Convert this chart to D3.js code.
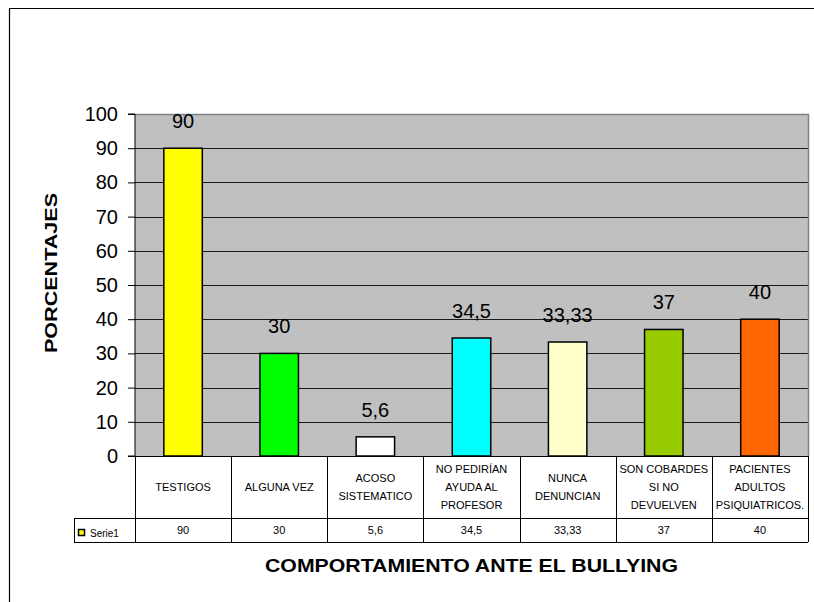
<!DOCTYPE html>
<html>
<head>
<meta charset="utf-8">
<script src="https://cdn.jsdelivr.net/npm/d3@7"></script>
<style>
  body { margin: 0; background: #fff; }
  svg { display: block; font-family: Arial, "Liberation Sans", sans-serif; }
</style>
</head>
<body>
<div id="chart"></div>
<script>
const categories = [
  "TESTIGOS",
  "ALGUNA VEZ",
  "ACOSO SISTEMATICO",
  "NO PEDIRÍAN AYUDA AL PROFESOR",
  "NUNCA DENUNCIAN",
  "SON COBARDES SI NO DEVUELVEN",
  "PACIENTES ADULTOS PSIQUIATRICOS."
];
const categoryLines = [
  ["TESTIGOS"],
  ["ALGUNA VEZ"],
  ["ACOSO", "SISTEMATICO"],
  ["NO PEDIRÍAN", "AYUDA AL", "PROFESOR"],
  ["NUNCA", "DENUNCIAN"],
  ["SON COBARDES", "SI NO", "DEVUELVEN"],
  ["PACIENTES", "ADULTOS", "PSIQUIATRICOS."]
];
const values = [90, 30, 5.6, 34.5, 33.33, 37, 40];
const valueLabels = ["90", "30", "5,6", "34,5", "33,33", "37", "40"];
const barColors = ["#ffff00", "#00ff00", "#ffffff", "#00ffff", "#ffffcc", "#99cc00", "#ff6600"];
const yTicks = [0, 10, 20, 30, 40, 50, 60, 70, 80, 90, 100];
const seriesName = "Serie1";
const xTitle = "COMPORTAMIENTO ANTE EL BULLYING";
const yTitle = "PORCENTAJES";

const W = 814, H = 602;
const PLOT = { left: 135, right: 808, top: 114, bottom: 456 };
const ROW1 = 518, ROW2 = 542, LEGEND_LEFT = 74;

const svg = d3.select("#chart").append("svg")
  .attr("width", W)
  .attr("height", H);

// outer chart frame (cropped at right/bottom)
svg.append("path")
  .attr("d", `M9.5,${H} L9.5,8.5 L${W},8.5`)
  .attr("fill", "none")
  .attr("stroke", "#000")
  .attr("stroke-width", 1.2);

const x = d3.scaleBand()
  .domain(categories)
  .range([PLOT.left, PLOT.right])
  .padding(0);

const y = d3.scaleLinear()
  .domain([0, 100])
  .range([PLOT.bottom, PLOT.top]);

// plot background
svg.append("rect")
  .attr("x", PLOT.left)
  .attr("y", PLOT.top)
  .attr("width", PLOT.right - PLOT.left)
  .attr("height", PLOT.bottom - PLOT.top)
  .attr("fill", "#c0c0c0");

// gridlines
svg.append("g")
  .selectAll("line")
  .data(yTicks.filter((d) => d > 0 && d < 100))
  .join("line")
  .attr("x1", PLOT.left)
  .attr("x2", PLOT.right)
  .attr("y1", (d) => Math.round(y(d)) + 0.5)
  .attr("y2", (d) => Math.round(y(d)) + 0.5)
  .attr("stroke", "#1a1a1a")
  .attr("stroke-width", 1);

// plot border top / right (gray)
svg.append("path")
  .attr("d", `M${PLOT.left},${PLOT.top + 0.5} L${PLOT.right + 0.5},${PLOT.top + 0.5} L${PLOT.right + 0.5},${PLOT.bottom}`)
  .attr("fill", "none")
  .attr("stroke", "#808080")
  .attr("stroke-width", 1.5);

// bars
const barW = x.bandwidth() * 0.4;
svg.append("g")
  .selectAll("rect")
  .data(values)
  .join("rect")
  .attr("x", (d, i) => x(categories[i]) + (x.bandwidth() - barW) / 2)
  .attr("y", (d) => y(d))
  .attr("width", barW)
  .attr("height", (d) => y(0) - y(d))
  .attr("fill", (d, i) => barColors[i])
  .attr("stroke", "#000")
  .attr("stroke-width", 1.5);

// data labels
svg.append("g")
  .selectAll("text")
  .data(values)
  .join("text")
  .attr("x", (d, i) => x(categories[i]) + x.bandwidth() / 2)
  .attr("y", (d) => y(d) - 20)
  .attr("text-anchor", "middle")
  .attr("font-size", 20)
  .attr("fill", "#000")
  .text((d, i) => valueLabels[i]);

// y axis
const yAxis = d3.axisLeft(y).tickValues(yTicks).tickSize(7).tickPadding(10).tickFormat(d3.format("d"));
svg.append("g")
  .attr("transform", `translate(${PLOT.left},0)`)
  .call(yAxis)
  .call((g) => g.select(".domain").attr("stroke", "#000").attr("d", `M-7,${PLOT.top}H0V${PLOT.bottom}H-7`))
  .call((g) => g.selectAll("line").attr("stroke", "#000"))
  .call((g) => g.selectAll("text")
    .attr("font-size", 20)
    .attr("font-family", "Arial, 'Liberation Sans', sans-serif")
    .attr("fill", "#000"));

// data table
const table = svg.append("g").attr("stroke", "#000").attr("stroke-width", 1);
table.append("line").attr("x1", PLOT.left).attr("x2", PLOT.right).attr("y1", PLOT.bottom + 0.5).attr("y2", PLOT.bottom + 0.5);
table.append("line").attr("x1", LEGEND_LEFT).attr("x2", PLOT.right).attr("y1", ROW1 + 0.5).attr("y2", ROW1 + 0.5);
table.append("line").attr("x1", LEGEND_LEFT).attr("x2", PLOT.right).attr("y1", ROW2 + 0.5).attr("y2", ROW2 + 0.5);
table.append("line").attr("x1", LEGEND_LEFT + 0.5).attr("x2", LEGEND_LEFT + 0.5).attr("y1", ROW1).attr("y2", ROW2);
table.selectAll("line.col")
  .data(categories.concat([null]))
  .join("line")
  .attr("class", "col")
  .attr("x1", (d) => Math.round(d === null ? PLOT.right : x(d)) + 0.5)
  .attr("x2", (d) => Math.round(d === null ? PLOT.right : x(d)) + 0.5)
  .attr("y1", PLOT.bottom)
  .attr("y2", ROW2);

// category labels
const catG = svg.append("g");
categoryLines.forEach((lines, i) => {
  const cx = x(categories[i]) + x.bandwidth() / 2;
  const base = 491 - (lines.length - 1) * 9;
  lines.forEach((ln, j) => {
    catG.append("text")
      .attr("x", cx)
      .attr("y", base + j * 18)
      .attr("text-anchor", "middle")
      .attr("font-size", 11)
      .attr("fill", "#000")
      .text(ln);
  });
});

// value row
svg.append("g")
  .selectAll("text")
  .data(values)
  .join("text")
  .attr("x", (d, i) => x(categories[i]) + x.bandwidth() / 2)
  .attr("y", 534)
  .attr("text-anchor", "middle")
  .attr("font-size", 11)
  .attr("fill", "#000")
  .text((d, i) => valueLabels[i]);

// legend key
svg.append("rect")
  .attr("x", 78.5)
  .attr("y", 529.5)
  .attr("width", 6)
  .attr("height", 6)
  .attr("fill", barColors[0])
  .attr("stroke", "#000")
  .attr("stroke-width", 1.5);
svg.append("text")
  .attr("x", 90)
  .attr("y", 537)
  .attr("font-size", 10)
  .attr("fill", "#000")
  .text(seriesName);

// axis titles
svg.append("text")
  .attr("x", 471.5)
  .attr("y", 572)
  .attr("text-anchor", "middle")
  .attr("font-size", 19)
  .attr("font-weight", "bold")
  .attr("textLength", 413)
  .attr("lengthAdjust", "spacingAndGlyphs")
  .text(xTitle);

svg.append("text")
  .attr("transform", "translate(57,273) rotate(-90)")
  .attr("text-anchor", "middle")
  .attr("font-size", 17)
  .attr("font-weight", "bold")
  .attr("textLength", 160)
  .attr("lengthAdjust", "spacingAndGlyphs")
  .text(yTitle);
</script>
</body>
</html>
